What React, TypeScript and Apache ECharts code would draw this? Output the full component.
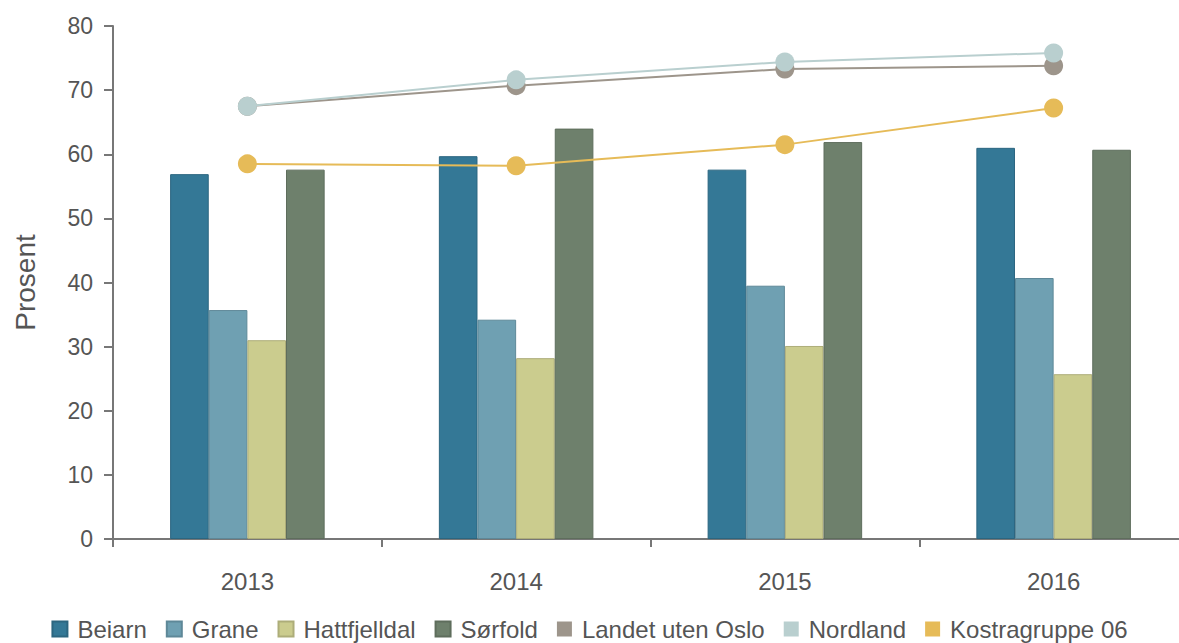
import React, { useEffect, useRef } from "react";
import * as echarts from "echarts";

const categories = ["2013", "2014", "2015", "2016"];
const beiarn = [56.9, 59.7, 57.6, 61.0];
const grane = [35.7, 34.2, 39.5, 40.7];
const hattfjelldal = [31.0, 28.2, 30.1, 25.7];
const sorfold = [57.6, 64.0, 61.9, 60.7];
const landetUtenOslo = [67.5, 70.7, 73.3, 73.8];
const nordland = [67.5, 71.6, 74.4, 75.8];
const kostragruppe06 = [58.5, 58.2, 61.5, 67.2];

const FONT = "'Liberation Sans', Arial, sans-serif";
const TEXT = "#555555";

export default function App() {
  const ref = useRef<HTMLDivElement>(null);
  useEffect(() => {
    if (!ref.current) return;
    const chart = echarts.init(ref.current, null, { renderer: "svg" });
    const bar = (name: string, data: number[], color: string, border: string) => ({
      name,
      type: "bar",
      data,
      barGap: "0%",
      barCategoryGap: "42.5%",
      itemStyle: { color, borderColor: border, borderWidth: 1 },
    });
    const line = (name: string, data: number[], color: string, z: number) => ({
      name,
      type: "line",
      data,
      z,
      symbol: "circle",
      symbolSize: 19,
      lineStyle: { color, width: 2 },
      itemStyle: { color },
    });
    chart.setOption({
      animation: false,
      textStyle: { fontFamily: FONT },
      grid: {
        left: 113,
        top: 26,
        bottom: 104,
        right: -9,
        containLabel: false,
        outerBoundsMode: "none",
      },
      legend: {
        top: 612,
        left: "center",
        itemWidth: 15,
        itemHeight: 15,
        itemGap: 19,
        icon: "rect",
        textStyle: { fontFamily: FONT, fontSize: 24, color: TEXT, padding: [0, 0, 0, 5] },
        data: [
          "Beiarn",
          "Grane",
          "Hattfjelldal",
          "Sørfold",
          "Landet uten Oslo",
          "Nordland",
          "Kostragruppe 06",
        ],
      },
      xAxis: {
        type: "category",
        data: categories,
        axisLine: { lineStyle: { color: "#777777", width: 2 } },
        axisTick: { show: true, length: 8, lineStyle: { color: "#777777", width: 2 } },
        axisLabel: { fontFamily: FONT, fontSize: 24, color: TEXT, margin: 30 },
      },
      yAxis: {
        type: "value",
        min: 0,
        max: 80,
        interval: 10,
        name: "Prosent",
        nameLocation: "middle",
        nameGap: 74,
        nameTextStyle: { fontFamily: FONT, fontSize: 28, color: TEXT },
        axisLine: { show: true, lineStyle: { color: "#777777", width: 2 } },
        axisTick: { show: true, length: 9, lineStyle: { color: "#777777", width: 2 } },
        axisLabel: { fontFamily: FONT, fontSize: 23, color: TEXT, margin: 20 },
        splitLine: { show: false },
      },
      series: [
        bar("Beiarn", beiarn, "#347896", "#2c6680"),
        bar("Grane", grane, "#6fa0b2", "#5e8898"),
        bar("Hattfjelldal", hattfjelldal, "#cbcc8e", "#adad79"),
        bar("Sørfold", sorfold, "#6e806c", "#5e6d5c"),
        line("Landet uten Oslo", landetUtenOslo, "#9d958b", 3),
        line("Nordland", nordland, "#b9cfcf", 4),
        line("Kostragruppe 06", kostragruppe06, "#e6bb58", 5),
      ],
    });
    return () => chart.dispose();
  }, []);
  return (
    <div
      ref={ref}
      style={{ position: "fixed", left: 0, top: 0, width: 1179, height: 643, background: "#fff" }}
    />
  );
}
